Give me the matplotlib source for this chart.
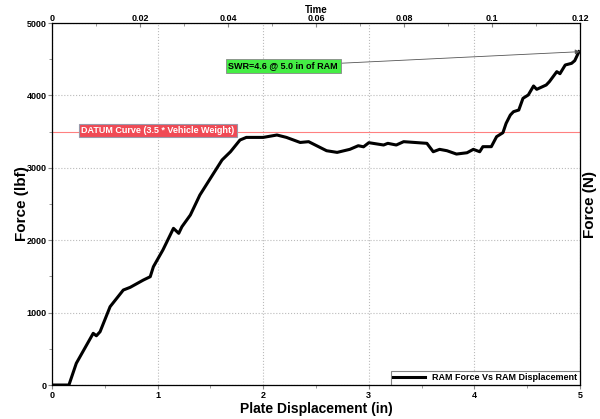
import matplotlib.pyplot as plt
import numpy as np

plt.rcParams['font.family'] = ['Liberation Sans', 'DejaVu Sans']
plt.rcParams['font.weight'] = 'bold'

# RAM displacement (in) and force (lbf)
disp = [0.0, 0.16, 0.23, 0.39, 0.42, 0.455, 0.55, 0.675, 0.74, 0.865, 0.93, 0.96,
        1.05, 1.15, 1.2, 1.23, 1.31, 1.37, 1.40, 1.53, 1.61, 1.69, 1.78, 1.84,
        2.0, 2.13, 2.22, 2.35, 2.43, 2.60, 2.70, 2.82, 2.90, 2.95, 3.0, 3.14,
        3.18, 3.26, 3.33, 3.55, 3.61, 3.67, 3.74, 3.83, 3.93, 3.99, 4.05, 4.08,
        4.16, 4.21, 4.27, 4.30, 4.34, 4.37, 4.42, 4.46, 4.51, 4.56, 4.59, 4.68,
        4.71, 4.78, 4.81, 4.86, 4.92, 4.95, 4.99]
force = [0, 0, 300, 714, 680, 736, 1082, 1312, 1349, 1450, 1496, 1634,
         1865, 2164, 2095, 2186, 2348, 2532, 2624, 2924, 3108, 3222, 3384, 3420,
         3420, 3453, 3420, 3350, 3361, 3236, 3213, 3255, 3305, 3290, 3347, 3315,
         3338, 3315, 3361, 3338, 3222, 3255, 3236, 3190, 3208, 3255, 3222, 3292,
         3292, 3430, 3485, 3614, 3729, 3775, 3798, 3960, 4006, 4130, 4084, 4144,
         4190, 4328, 4300, 4420, 4443, 4480, 4604]

datum = 3500
time_ticks = [0, 0.02, 0.04, 0.06, 0.08, 0.1, 0.12]

fig = plt.figure(figsize=(6, 4.19), dpi=100)
ax = fig.add_axes([0.0867, 0.0811, 0.88, 0.864])

ax.plot(disp, force, color='black', lw=2.2, label='RAM Force Vs RAM Displacement', zorder=3)
ax.axhline(datum, color='#ff8080', lw=0.8, zorder=2)

ax.set_xlim(0, 5)
ax.set_ylim(0, 5000)
ax.set_xticks([0, 1, 2, 3, 4, 5])
ax.set_xticks(np.arange(0, 5.01, 0.5), minor=True)
ax.set_yticks([0, 1000, 2000, 3000, 4000, 5000])
ax.set_yticks(np.arange(0, 5001, 500), minor=True)
ax.tick_params(labelsize=6.5, length=3, color='#888888', pad=1)
ax.tick_params(which='minor', length=2, color='#888888')
ax.grid(True, which='major', color='#bbbbbb', ls=':', lw=0.8)
for s in ax.spines.values():
    s.set_color('#888888')

ax.set_xlabel('Plate Displacement (in)', fontsize=10, fontweight='bold', labelpad=2)
ax.set_ylabel('Force (lbf)', fontsize=11, fontweight='bold', labelpad=-2)

axt = ax.twiny()
axt.set_xlim(0, 0.12)
axt.set_xticks(time_ticks)
axt.set_xticklabels(['0', '0.02', '0.04', '0.06', '0.08', '0.1', '0.12'])
axt.set_xticks(np.arange(0, 0.121, 0.01), minor=True)
axt.tick_params(labelsize=6.5, length=3, color='#888888', pad=0, direction='in')
axt.tick_params(which='minor', length=2, color='#888888', direction='in')
axt.set_xlabel('Time', fontsize=7, fontweight='bold', labelpad=1)

axr = ax.twinx()
axr.set_yticks([])
axr.set_ylabel('Force (N)', fontsize=11, fontweight='bold', labelpad=2)

ax.text(1.0, 3515, 'DATUM Curve (3.5 * Vehicle Weight)', fontsize=6.5, color='white',
        fontweight='bold', ha='center', va='center', zorder=5,
        bbox=dict(boxstyle='square,pad=0.25', fc='#f04a55', ec='#9999aa', lw=0.8))

ax.annotate('SWR=4.6 @ 5.0 in of RAM', xy=(5.0, 4604), xytext=(2.19, 4406),
            fontsize=6.5, fontweight='bold', color='black', ha='center', va='center',
            bbox=dict(boxstyle='square,pad=0.3', fc='#44ee44', ec='#888888', lw=0.6),
            arrowprops=dict(arrowstyle='-|>', color='#555555', lw=0.6,
                            shrinkA=0, shrinkB=0, mutation_scale=7), zorder=5)

leg = ax.legend(loc='lower right', fontsize=6.5, frameon=True, fancybox=False,
                borderpad=0.3, handlelength=3.5, borderaxespad=0.0)
leg.get_frame().set_edgecolor('#666666')
leg.get_frame().set_linewidth(0.8)
for t in leg.get_texts():
    t.set_fontweight('bold')

fig.savefig('out.png', dpi=100)
